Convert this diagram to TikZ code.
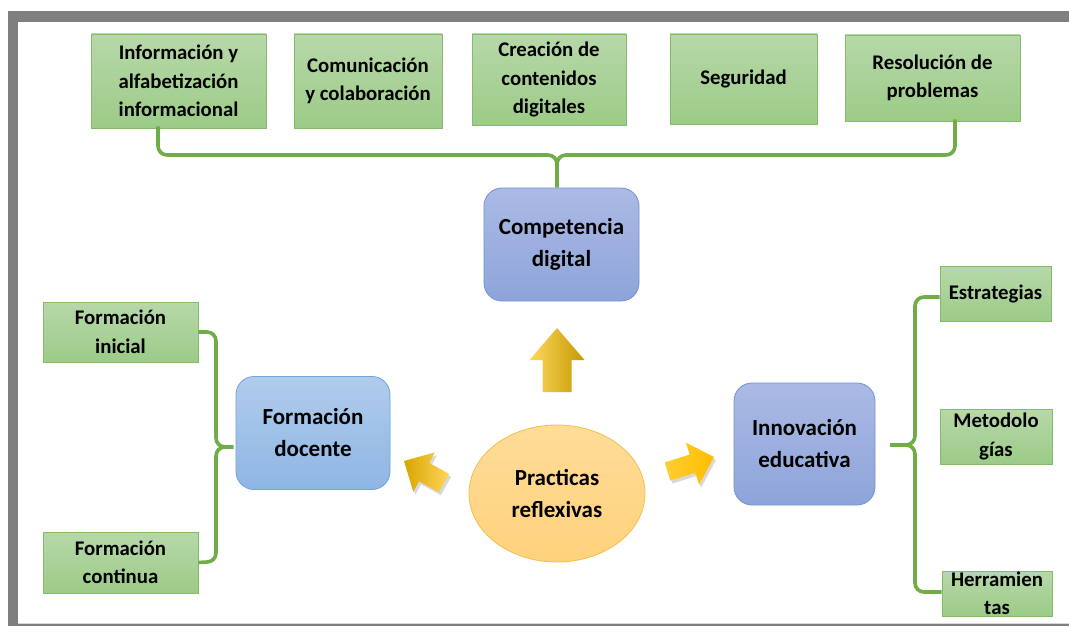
\documentclass[tikz,border=0pt]{standalone}
\usepackage{fontspec}
\setmainfont{Carlito}
\usetikzlibrary{shapes.geometric,calc}
\definecolor{gtop}{HTML}{B7D8AA}
\definecolor{gbot}{HTML}{9CCB87}
\definecolor{gbord}{HTML}{86BC68}
\definecolor{braceg}{HTML}{70AD47}
\definecolor{btop}{HTML}{ABBAE5}
\definecolor{bbot}{HTML}{8EA4DA}
\definecolor{bbord}{HTML}{7493D3}
\definecolor{ltop}{HTML}{B0CCEC}
\definecolor{lbot}{HTML}{8EB6E3}
\definecolor{lbord}{HTML}{73A3DC}
\definecolor{etop}{HTML}{FFDC98}
\definecolor{ebot}{HTML}{FFD27C}
\definecolor{ebord}{HTML}{F2C04A}
\definecolor{framegray}{HTML}{7F7F7F}
\definecolor{goldlight}{HTML}{FFD75E}
\definecolor{goldmid}{HTML}{FFC000}
\definecolor{golddark}{HTML}{C49A00}
\begin{document}
\begin{tikzpicture}[x=1pt,y=-1pt,
  greenbox/.style={draw=gbord, line width=0.8pt, top color=gtop, bottom color=gbot,
    inner sep=0pt, align=center, font=\bfseries\fontsize{20.8}{28.5}\selectfont},
  bluebox/.style={draw=bbord, line width=0.8pt, rounded corners=18pt, top color=btop, bottom color=bbot,
    inner sep=0pt, align=center, font=\bfseries\fontsize{23}{32}\selectfont},
  lbluebox/.style={bluebox, draw=lbord, top color=ltop, bottom color=lbot},
  brace/.style={draw=braceg, line width=3.6pt},
  goldshadow/.style={fill=black, fill opacity=0.15}]
\useasboundingbox (0,0) rectangle (1069,626);
% frame
\fill[framegray] (8,11) rectangle (1080,640);
\fill[white] (18,22) rectangle (1080,623);
\draw[gray!30, line width=1pt] (18,623.5) -- (1080,623.5);

% top boxes
\node[greenbox, minimum width=175pt, minimum height=94pt] (b1) at (178.5,81) {Información y\\alfabetización\\informacional};
\node[greenbox, minimum width=148pt, minimum height=94pt] (b2) at (368,81) {Comunicación\\y colaboración};
\node[greenbox, minimum width=154pt, minimum height=91pt] (b3) at (549,79.5) {Creación de\\contenidos\\digitales};
\node[greenbox, minimum width=147pt, minimum height=90pt] (b4) at (743.5,79) {Seguridad};
\node[greenbox, minimum width=175pt, minimum height=86pt] (b5) at (932.5,78) {Resolución de\\problemas};

% main boxes
\node[bluebox, minimum width=155pt, minimum height=113pt] (cd) at (561.5,244.5) {Competencia\\digital};
\node[lbluebox, minimum width=154pt, minimum height=113pt] (fd) at (313,433) {Formación\\docente};
\node[bluebox, minimum width=141pt, minimum height=122pt] (ie) at (804.5,444) {Innovación\\educativa};
\node[ellipse, draw=ebord, line width=0.8pt, top color=etop, bottom color=ebot,
  minimum width=176pt, minimum height=137pt, inner sep=0pt, align=center,
  font=\bfseries\fontsize{23}{32}\selectfont] (pr) at (557,493.5) {Practicas\\reflexivas};

% side boxes
\node[greenbox, minimum width=155pt, minimum height=60pt] (fi) at (120.5,332) {Formación\\inicial};
\node[greenbox, minimum width=155pt, minimum height=61pt] (fc) at (120.5,562.5) {Formación\\continua};
\node[greenbox, minimum width=111pt, minimum height=55pt] (es) at (995.5,293.5) {Estrategias};
\node[greenbox, minimum width=112pt, minimum height=55pt] (me) at (996,436.5) {Metodolo\\gías};
\node[greenbox, minimum width=110pt, minimum height=45pt] (he) at (997,593.5) {Herramien\\tas};

% top brace
\coordinate (tL) at ($(b1.south)+(-20.5,-2)$);
\coordinate (tR) at ($(b5.south)+(22.5,-2)$);
\coordinate (tC) at (557,164);
\coordinate (cs) at ($(cd.north)+(-4.5,0)$);
\draw[brace] (tL) -- (158,146) to[out=-90,in=180] (167,155) -- (548,155) to[out=0,in=90] (tC) -- (cs);
\draw[brace] (tR) -- (955,146) to[out=-90,in=0] (946,155) -- (566,155) to[out=180,in=90] (tC);

% left brace
\coordinate (lC) at (225,447);
\coordinate (lT) at ($(fd.west)+(-2,14)$);
\draw[brace] (fi.east) -- (207,332) to[out=0,in=90] (216,341) -- (216,438) to[out=-90,in=180] (lC) -- (lT);
\draw[brace] (fc.east) -- (207,562) to[out=0,in=-90] (216,553) -- (216,456) to[out=90,in=180] (lC);

% right brace
\coordinate (rC) at (906,445);
\coordinate (rT) at (890,445);
\draw[brace] ($(es.west)+(0,3.5)$) -- (924,297) to[out=180,in=90] (915,306) -- (915,436) to[out=-90,in=0] (rC) -- (rT);
\draw[brace] ($(he.west)+(0,-1.5)$) -- (924,592) to[out=180,in=-90] (915,583) -- (915,454) to[out=90,in=0] (rC);

% gold arrows
\shade[left color=goldlight, middle color=goldmid, right color=golddark]
  (542.5,392) -- (542.5,360) -- (529.5,360) -- (557,328) -- (584.5,360) -- (571.5,360) -- (571.5,392) -- cycle;
\begin{scope}[shift={(2,3)}]
\fill[goldshadow] (449.1,473.8) -- (429.2,462.9) -- (434.9,452.4) -- (404,461) -- (413.3,491.8) -- (419.0,481.3) -- (438.9,492.2) -- cycle;
\fill[goldshadow] (664.7,462.4) -- (689.7,454.6) -- (685.9,442.7) -- (714,457) -- (699.1,484.7) -- (695.3,472.8) -- (670.3,480.6) -- cycle;
\end{scope}
\shade[left color={rgb,255:red,214;green,166;blue,0}, middle color=goldmid, right color={rgb,255:red,255;green,214;blue,90}]
  (449.1,473.8) -- (429.2,462.9) -- (434.9,452.4) -- (404,461) -- (413.3,491.8) -- (419.0,481.3) -- (438.9,492.2) -- cycle;
\shade[left color={rgb,255:red,255;green,204;blue,50}, right color={rgb,255:red,255;green,190;blue,0}]
  (664.7,462.4) -- (689.7,454.6) -- (685.9,442.7) -- (714,457) -- (699.1,484.7) -- (695.3,472.8) -- (670.3,480.6) -- cycle;
\end{tikzpicture}
\end{document}
